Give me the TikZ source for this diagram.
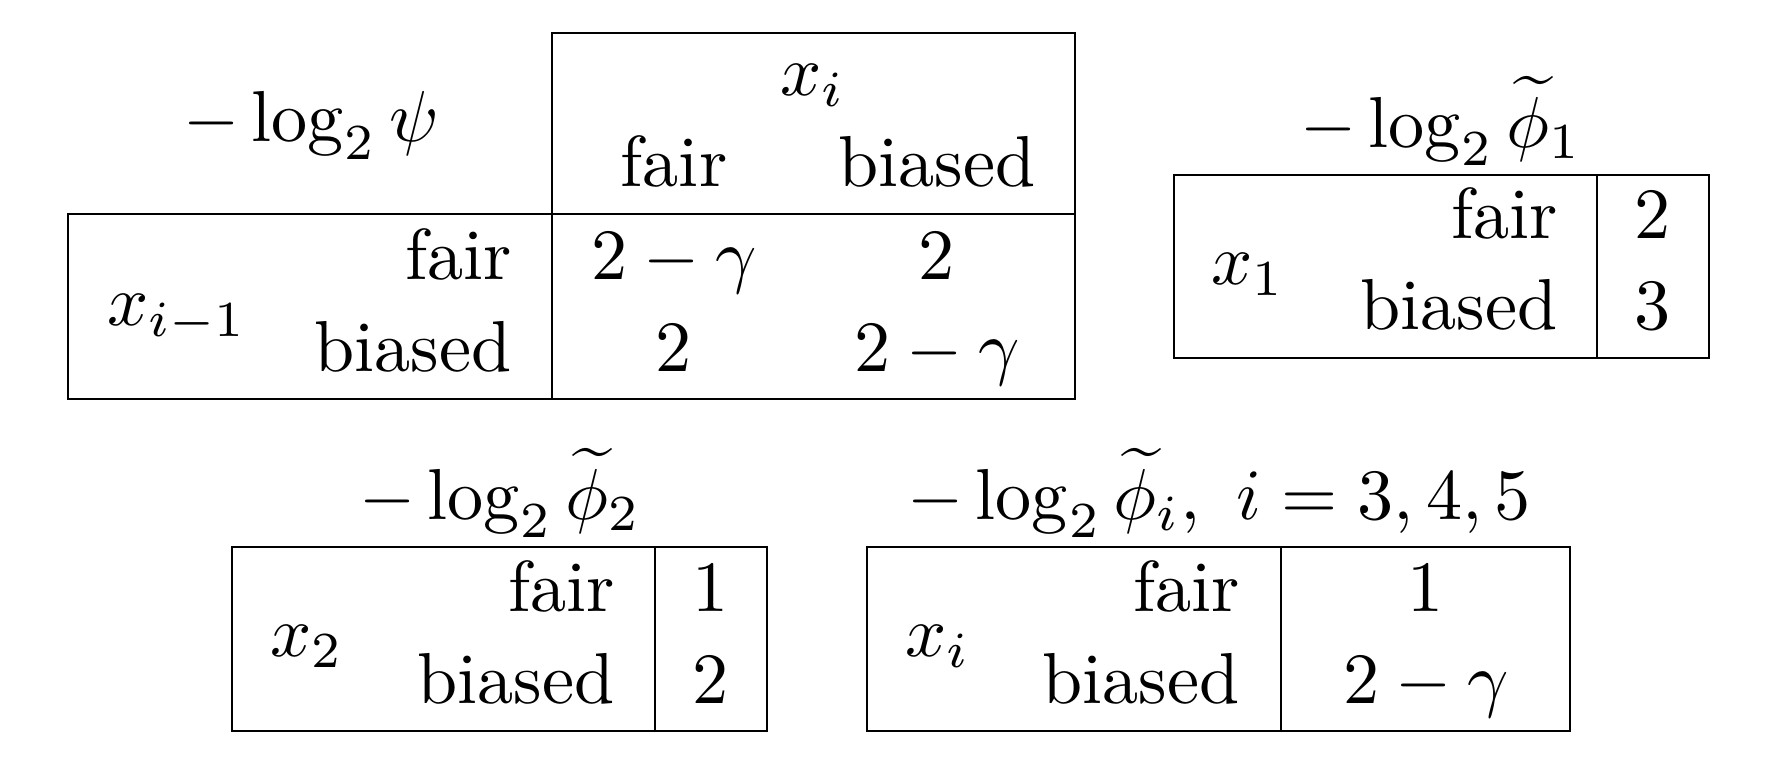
\documentclass[tikz,border=0pt]{standalone}
\usepackage{amsmath}

\begin{document}
\begin{tikzpicture}[x=0.1385pt, y=-0.1385pt,
    tline/.style={line width=0.4pt, line cap=rect},
    cell/.style={inner sep=0pt, anchor=base},
    stub/.style={inner sep=0pt, anchor=base east},
    var/.style={inner sep=0pt, anchor=base west}]
    \useasboundingbox (0,0) rectangle (1776,768);
    % pairwise table
    \draw[tline] (552,33) -- (1075,33) -- (1075,399) -- (68,399) -- (68,214) -- (1075,214);
    \draw[tline] (552,33) -- (552,399);
    \node[cell] (psiT) at (311,142) {$-\log_2\psi$};
    \node[cell] (psiX) at (813,96) {$x_i$};
    \node[cell] (psiF) at (674,187) {fair};
    \node[cell] (psiB) at (937,187) {biased};
    \node[var] (psiV) at (106,326) {$x_{i-1}$};
    \node[stub] (psiRF) at (513,280) {fair};
    \node[stub] (psiRB) at (513,372) {biased};
    \node[cell] (psiFF) at (674,280) {$2-\gamma$};
    \node[cell] (psiFB) at (937,280) {$2$};
    \node[cell] (psiBF) at (674,372) {$2$};
    \node[cell] (psiBB) at (937,372) {$2-\gamma$};
    % first unary table
    \draw[tline] (1174,175) rectangle (1709,358);
    \draw[tline] (1597,175) -- (1597,358);
    \node[cell] (oneT) at (1441,148) {$-\log_2\widetilde{\phi}_1$};
    \node[var] (oneV) at (1210,285) {$x_1$};
    \node[stub] (oneF) at (1559,239) {fair};
    \node[stub] (oneB) at (1559,330) {biased};
    \node[cell] (oneFv) at (1653,239) {$2$};
    \node[cell] (oneBv) at (1653,330) {$3$};
    % second unary table
    \draw[tline] (232,547) rectangle (767,731);
    \draw[tline] (655,547) -- (655,731);
    \node[cell] (twoT) at (500,520) {$-\log_2\widetilde{\phi}_2$};
    \node[var] (twoV) at (269,657) {$x_2$};
    \node[stub] (twoF) at (616,612) {fair};
    \node[stub] (twoB) at (616,704) {biased};
    \node[cell] (twoFv) at (711,612) {$1$};
    \node[cell] (twoBv) at (711,704) {$2$};
    % remaining unary tables
    \draw[tline] (867,547) rectangle (1570,731);
    \draw[tline] (1281,547) -- (1281,731);
    \node[cell] (restT) at (1219,520) {$-\log_2\widetilde{\phi}_i,\ i=3,4,5$};
    \node[var] (restV) at (904,657) {$x_i$};
    \node[stub] (restF) at (1241,612) {fair};
    \node[stub] (restB) at (1241,704) {biased};
    \node[cell] (restFv) at (1426,612) {$1$};
    \node[cell] (restBv) at (1426,704) {$2-\gamma$};
\end{tikzpicture}
\end{document}
